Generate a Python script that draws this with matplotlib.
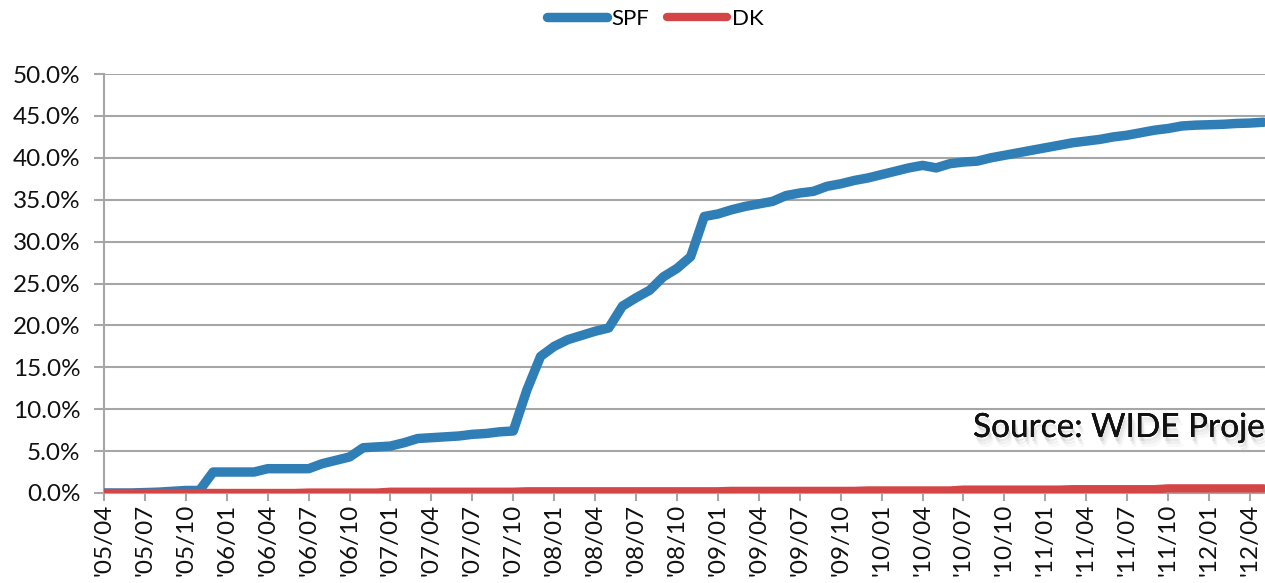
import numpy as np
import matplotlib
matplotlib.use('Agg')
import matplotlib.pyplot as plt
import matplotlib.patheffects as pe

# monthly data from 2005/04 to 2012/05
months = []
for y in range(2005, 2013):
    for mo in range(1, 13):
        if (y == 2005 and mo < 4) or (y == 2012 and mo > 5):
            continue
        months.append("'%02d/%02d" % (y % 100, mo))

spf = [0.0, 0.0, 0.0, 0.05, 0.1, 0.2, 0.3, 0.3, 2.5, 2.5,
       2.5, 2.5, 2.9, 2.9, 2.9, 2.9, 3.5, 3.9, 4.3, 5.4,
       5.5, 5.6, 6.0, 6.5, 6.6, 6.7, 6.8, 7.0, 7.1, 7.3,
       7.4, 12.3, 16.3, 17.5, 18.3, 18.8, 19.3, 19.7, 22.3, 23.3,
       24.2, 25.8, 26.8, 28.2, 33.0, 33.3, 33.8, 34.2, 34.5, 34.8,
       35.5, 35.8, 36.0, 36.6, 36.9, 37.3, 37.6, 38.0, 38.4, 38.8,
       39.1, 38.8, 39.3, 39.5, 39.6, 40.0, 40.3, 40.6, 40.9, 41.2,
       41.5, 41.8, 42.0, 42.2, 42.5, 42.7, 43.0, 43.3, 43.5, 43.8,
       43.9, 43.95, 44.0, 44.1, 44.15, 44.25]
dk = [0.0, 0.0, 0.0, 0.0, 0.0, 0.0, 0.0, 0.0, 0.0, 0.0,
      0.0, 0.0, 0.0, 0.0, 0.0, 0.05, 0.05, 0.05, 0.05, 0.05,
      0.05, 0.15, 0.15, 0.15, 0.15, 0.15, 0.15, 0.15, 0.15, 0.15,
      0.15, 0.2, 0.2, 0.2, 0.2, 0.2, 0.2, 0.2, 0.2, 0.2,
      0.2, 0.2, 0.2, 0.2, 0.2, 0.2, 0.25, 0.25, 0.25, 0.25,
      0.25, 0.25, 0.25, 0.25, 0.25, 0.25, 0.3, 0.3, 0.3, 0.3,
      0.3, 0.3, 0.3, 0.4, 0.4, 0.4, 0.4, 0.4, 0.4, 0.4,
      0.4, 0.45, 0.45, 0.45, 0.45, 0.45, 0.45, 0.45, 0.55, 0.55,
      0.55, 0.55, 0.55, 0.55, 0.55, 0.55]

plt.rcParams['font.family'] = ['Lato', 'DejaVu Sans']

fig = plt.figure(figsize=(12.65, 5.83), dpi=100)
ax = fig.add_axes([0.0822, 0.1544, 0.9178, 0.7186])

x = np.arange(len(months))
ax.plot(x, spf, color='#2F7EB6', lw=6.8, solid_capstyle='round', solid_joinstyle='round', label='SPF', zorder=3)
ax.plot(x, dk, color='#D44545', lw=6.0, solid_capstyle='round', solid_joinstyle='round', label='DK', zorder=3)

ax.set_xlim(0, 85.1)
ax.set_ylim(0, 50)
ax.set_yticks(np.arange(0, 51, 5))
ax.set_yticklabels(['%.1f%%' % v for v in np.arange(0, 51, 5)], fontsize=17.5, color='#111111')
ax.set_xticks(x[::3])
ax.set_xticklabels(months[::3], rotation=90, fontsize=17.5, color='#111111')

ax.grid(axis='y', color='#A6A6A6', lw=1.5, zorder=0)
for s in ['top', 'right']:
    ax.spines[s].set_visible(False)
for s in ['left', 'bottom']:
    ax.spines[s].set_color('#A6A6A6')
    ax.spines[s].set_linewidth(1.5)
ax.tick_params(axis='y', colors='#A6A6A6', length=7, width=1.5, labelcolor='#111111', pad=10)
ax.tick_params(axis='x', colors='#A6A6A6', length=6, width=1.5, labelcolor='#111111', pad=2)

leg = fig.legend(loc='center', bbox_to_anchor=(0.518, 0.968), ncol=2, frameon=False,
                 fontsize=16, handlelength=2.7, handletextpad=0.2, columnspacing=0.8)

shadow = [pe.withSimplePatchShadow(offset=(1, -3), shadow_rgbFace='#888888', alpha=0.18),
          pe.withSimplePatchShadow(offset=(2, -5), shadow_rgbFace='#888888', alpha=0.12),
          pe.withSimplePatchShadow(offset=(3, -7), shadow_rgbFace='#aaaaaa', alpha=0.08)]
fig.text(973 / 1265, 1 - 428 / 583, 'Source: WIDE Proje', fontsize=24, va='center', ha='left',
         color='#111111', path_effects=shadow)

fig.savefig('out.png', dpi=100)
